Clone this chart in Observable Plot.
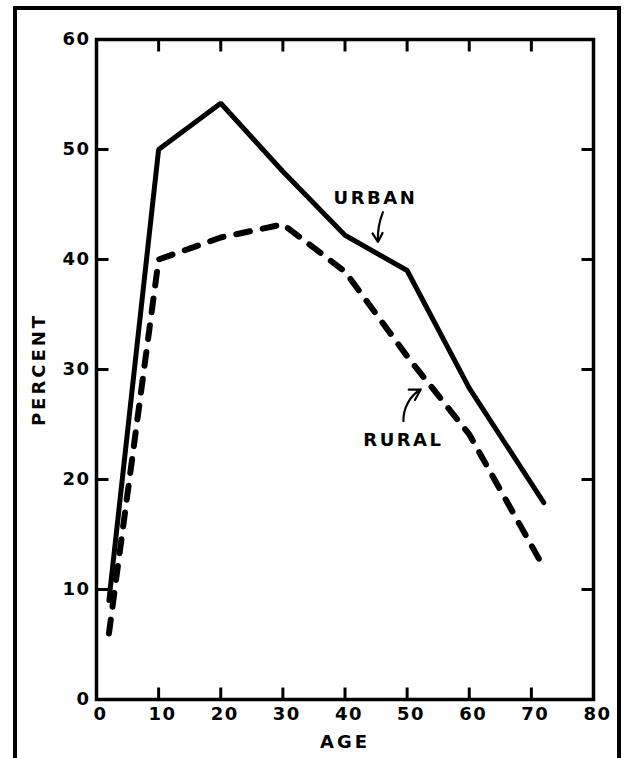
<!DOCTYPE html>
<html>
<head>
<meta charset="utf-8">
<script src="https://cdn.jsdelivr.net/npm/d3@7"></script>
<script src="https://cdn.jsdelivr.net/npm/@observablehq/plot@0.6"></script>
<style>
  html, body { margin: 0; padding: 0; background: #fff; }
  #wrap { position: relative; width: 627px; height: 758px; overflow: hidden; }
  #border { position: absolute; left: 13px; top: 6px; width: 600px; height: 820px; border: 4px solid #000; }
  #chart { position: absolute; left: 0; top: 0; }
  #chart svg { font-family: "DejaVu Sans", sans-serif; }
</style>
</head>
<body>
<div id="wrap"><div id="border"></div><div id="chart"></div></div>
<script>
// Data
const ages        = [2, 10, 20, 30, 40, 50, 60, 72];
const urbanValues = [9, 50, 54.2, 48, 42.2, 39, 28.3, 17.9];
const ruralValues = [6, 40, 42, 43.2, 38.9, 31.2, 24.1, 12];

const xTickValues = [0, 10, 20, 30, 40, 50, 60, 70, 80];
const yTickValues = [0, 10, 20, 30, 40, 50, 60];
const xInnerTicks = [10, 20, 30, 40, 50, 60, 70];
const yInnerTicks = [10, 20, 30, 40, 50];

const seriesLabels = ["URBAN", "RURAL"];
const labelAges    = [44.9, 49.4];
const labelPcts    = [45.6, 23.6];
const arrowFromAge = [46.1, 49.4];
const arrowFromPct = [44.3, 25.3];
const arrowToAge   = [45.3, 52.2];
const arrowToPct   = [41.6, 28.2];
const arrowBend    = [-12, 30];

const urban = ages.map((a, i) => ({age: a, pct: urbanValues[i]}));
const rural = ages.map((a, i) => ({age: a, pct: ruralValues[i]}));
const labels = seriesLabels.map((s, i) => ({s, age: labelAges[i], pct: labelPcts[i]}));
const arrows = seriesLabels.map((s, i) => ({
  x1: arrowFromAge[i], y1: arrowFromPct[i], x2: arrowToAge[i], y2: arrowToPct[i], bend: arrowBend[i]
}));

const W = 627, H = 758, mL = 96, mR = 34, mT = 39, mB = 59;
const xDom = [0, 80], yDom = [0, 60];
const pxPerX = (W - mL - mR) / (xDom[1] - xDom[0]);
const pxPerY = (H - mT - mB) / (yDom[1] - yDom[0]);
const tickLen = 12;
const tx = tickLen / pxPerX, ty = tickLen / pxPerY;

// inward tick marks on all four sides
const tickSegs = [
  ...xInnerTicks.map(v => ({x1: v, x2: v, y1: yDom[0], y2: yDom[0] + ty})),
  ...xInnerTicks.map(v => ({x1: v, x2: v, y1: yDom[1], y2: yDom[1] - ty})),
  ...yInnerTicks.map(v => ({x1: xDom[0], x2: xDom[0] + tx, y1: v, y2: v})),
  ...yInnerTicks.map(v => ({x1: xDom[1], x2: xDom[1] - tx, y1: v, y2: v}))
];

const chart = Plot.plot({
  width: W, height: H,
  marginLeft: mL, marginRight: mR, marginTop: mT, marginBottom: mB,
  x: {domain: xDom},
  y: {domain: yDom},
  style: {fontFamily: "DejaVu Sans, sans-serif", color: "#000", background: "transparent"},
  marks: [
    Plot.axisX({ticks: xTickValues, tickSize: 0, tickPadding: 8, dx: 4, fontSize: 18, fontWeight: "bold",
      label: "AGE", labelAnchor: "center", labelOffset: 48, anchor: "bottom", labelArrow: "none"}),
    Plot.axisY({ticks: yTickValues, tickSize: 0, tickPadding: 6, fontSize: 18, fontWeight: "bold",
      label: "PERCENT", labelAnchor: "center", labelOffset: 64, anchor: "left", labelArrow: "none"}),
    Plot.link(tickSegs, {x1: "x1", y1: "y1", x2: "x2", y2: "y2", stroke: "#000", strokeWidth: 3}),
    Plot.frame({strokeWidth: 3.5}),
    Plot.line(urban, {x: "age", y: "pct", strokeWidth: 5, stroke: "#000", strokeLinejoin: "miter"}),
    Plot.line(rural, {x: "age", y: "pct", strokeWidth: 6, stroke: "#000", strokeDasharray: "14,13", strokeLinecap: "round"}),
    Plot.text(labels, {x: "age", y: "pct", text: "s", fontSize: 18, fontWeight: "bold", fill: "#000"}),
    ...arrows.map(a => Plot.arrow([a], {x1: "x1", y1: "y1", x2: "x2", y2: "y2", bend: a.bend,
      strokeWidth: 2.2, headLength: 11, headAngle: 60, stroke: "#000"}))
  ]
});
document.getElementById("chart").appendChild(chart);
const svg = d3.select(chart);
svg.selectAll("text").attr("letter-spacing", "1.5px");
svg.selectAll('g[aria-label="text"] text').attr("letter-spacing", "2.5px");
svg.selectAll('g[aria-label="x-axis label"] text, g[aria-label="y-axis label"] text').attr("letter-spacing", "3px");
</script>
</body>
</html>
